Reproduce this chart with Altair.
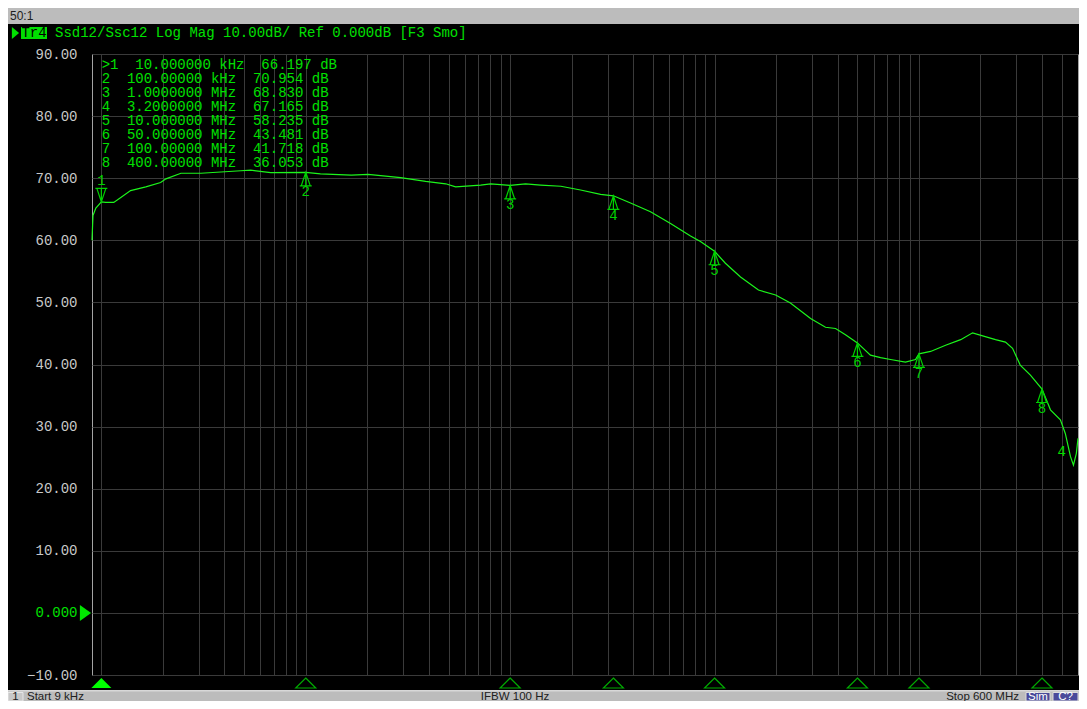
import altair as alt
import pandas as pd

# ---------------- data ----------------
trace_freq = [9.0e3, 9.1e3, 9.4e3, 1.0e4, 1.05e4, 1.15e4, 1.245e4, 1.39e4, 1.65e4, 1.95e4,
              2.07e4, 2.45e4, 3.07e4, 4.81e4, 5.38e4, 6.74e4, 1.0e5, 1.18e5, 1.67e5, 2.02e5,
              2.91e5, 3.86e5, 4.84e5, 5.41e5, 7.17e5, 8.03e5, 1.0e6, 1.19e6, 1.41e6, 1.77e6,
              2.21e6, 2.77e6, 3.2e6, 3.88e6, 4.86e6, 6.09e6, 7.63e6, 8.53e6, 1.0e7, 1.13e7,
              1.34e7, 1.64e7, 1.99e7, 2.35e7, 2.95e7, 3.49e7, 3.91e7, 4.37e7, 5.0e7, 5.79e7,
              6.49e7, 7.26e7, 8.59e7, 9.62e7, 1.0e8, 1.14e8, 1.35e8, 1.60e8, 1.83e8, 2.11e8,
              2.37e8, 2.65e8, 2.87e8, 3.13e8, 3.51e8, 4.0e8, 4.40e8, 4.92e8, 5.20e8, 5.51e8,
              5.70e8, 5.89e8, 6.0e8]
trace_db = [60.0, 64.0, 65.2, 66.2, 66.1, 66.1, 66.9, 68.0, 68.6, 69.3,
            69.9, 70.8, 70.8, 71.2, 71.3, 70.9, 70.95, 70.7, 70.5, 70.6,
            70.1, 69.5, 69.1, 68.6, 68.9, 69.1, 68.83, 69.1, 68.9, 68.7,
            68.1, 67.4, 67.165, 66.0, 64.6, 62.7, 60.7, 59.8, 58.235, 56.3,
            54.1, 52.0, 51.2, 49.9, 47.4, 46.0, 45.8, 44.8, 43.481, 41.5,
            41.1, 40.8, 40.4, 40.8, 41.718, 42.1, 43.1, 44.0, 45.1, 44.5,
            44.0, 43.6, 42.6, 39.9, 38.3, 36.053, 32.7, 31.1, 28.9, 25.2,
            23.8, 25.7, 28.1]

marker_num = [1, 2, 3, 4, 5, 6, 7, 8]
marker_freq = [1e4, 1e5, 1e6, 3.2e6, 1e7, 5e7, 1e8, 4e8]
marker_db = [66.197, 70.954, 68.830, 67.165, 58.235, 43.481, 41.718, 36.053]
marker_freq_text = ["10.000000 kHz", "100.00000 kHz", "1.0000000 MHz", "3.2000000 MHz",
                    "10.000000 MHz", "50.000000 MHz", "100.00000 MHz", "400.00000 MHz"]

y_ticks = [-10, 0, 10, 20, 30, 40, 50, 60, 70, 80, 90]
x_grid = [k * 10 ** e for e in range(4, 9) for k in range(1, 10) if 9e3 < k * 10 ** e < 6e8]

header_text = "Ssd12/Ssc12 Log Mag 10.00dB/ Ref 0.000dB [F3 Smo]"
start_text = "Start 9 kHz"
ifbw_text = "IFBW 100 Hz"
stop_text = "Stop 600 MHz"

# ---------------- styling ----------------
W, H = 986, 621
PAD_L, PAD_T, PAD_R, PAD_B = 84, 46, 1, 26
GREEN = "#00e000"
TRACE = "#1cf51c"
MARK = "#00d200"
GRID = "#3a3a3a"
BAR = "#bcbcbc"
MONO = "Liberation Mono"
NB = "\u00a0"

trace_df = pd.DataFrame({"f": trace_freq, "db": trace_db})
mk_df = pd.DataFrame({"n": marker_num, "f": marker_freq, "db": marker_db,
                      "lbl": [str(n) for n in marker_num],
                      "active": [n == 1 for n in marker_num]})
one = pd.DataFrame({"k": [0]})

xs = alt.Scale(type="log", domain=[9e3, 6e8], nice=False)
ys = alt.Scale(domain=[-10, 90], nice=False, zero=False)

table_lines = [
    (">" if n == 1 else NB) + str(n) + NB * 2 + ft + NB * 2 + f"{v:.3f}" + NB + "dB"
    for n, ft, v in zip(marker_num, marker_freq_text, marker_db)
]

trace = alt.Chart(trace_df).mark_line(color=TRACE, strokeWidth=1.2).encode(
    x=alt.X("f:Q", scale=xs,
            axis=alt.Axis(values=x_grid, labels=False, ticks=False, domain=False,
                          grid=True, gridColor=GRID, gridWidth=1, title=None)),
    y=alt.Y("db:Q", scale=ys,
            axis=alt.Axis(values=y_ticks, ticks=False, tickSize=0, domain=False,
                          grid=True, gridColor=GRID, gridWidth=1, title=None,
                          labelExpr="datum.value == 0 ? '0.000' : format(datum.value, '.2f')",
                          labelColor={"condition": {"test": "datum.value === 0", "value": GREEN},
                                      "value": "#c8c8c8"},
                          labelFont=MONO, labelFontSize=14, labelPadding=15)),
)

up_path = "M0,0 L0.3,0.9 L-0.3,0.9 Z M0,0 L0,0.9 M-0.4,0.9 L0.4,0.9"
down_path = "M0,0 L0.3,-0.9 L-0.3,-0.9 Z M0,0 L0,-0.9 M-0.4,-0.9 L0.4,-0.9"

mk_up = alt.Chart(mk_df).transform_filter("!datum.active").mark_point(
    shape=up_path, size=900, filled=False, color=MARK, strokeWidth=1.2, opacity=1
).encode(x=alt.X("f:Q", scale=xs), y=alt.Y("db:Q", scale=ys))
mk_up_lbl = alt.Chart(mk_df).transform_filter("!datum.active").mark_text(
    font=MONO, fontSize=14, color=MARK, dy=20, baseline="middle"
).encode(x=alt.X("f:Q", scale=xs), y=alt.Y("db:Q", scale=ys), text="lbl:N")

mk_dn = alt.Chart(mk_df).transform_filter("datum.active").mark_point(
    shape=down_path, size=900, filled=False, color=MARK, strokeWidth=1.2, opacity=1
).encode(x=alt.X("f:Q", scale=xs), y=alt.Y("db:Q", scale=ys))
mk_dn_lbl = alt.Chart(mk_df).transform_filter("datum.active").mark_text(
    font=MONO, fontSize=14, color=MARK, dy=-21, baseline="middle"
).encode(x=alt.X("f:Q", scale=xs), y=alt.Y("db:Q", scale=ys), text="lbl:N")

# bottom marker indicators
ind_path = "M0,-0.5 L1,0.5 L-1,0.5 Z"
ind_off = alt.Chart(mk_df).transform_filter("!datum.active").mark_point(
    shape=ind_path, size=400, filled=False, color="#00aa00", strokeWidth=1.2, opacity=1
).encode(x=alt.X("f:Q", scale=xs), y=alt.value(H + 8))
ind_on = alt.Chart(mk_df).transform_filter("datum.active").mark_point(
    shape=ind_path, size=400, filled=True, color="#00ff00", opacity=1
).encode(x=alt.X("f:Q", scale=xs), y=alt.value(H + 8))

# reference level triangle
ref_df = pd.DataFrame({"db": [0]})
ref_left = alt.Chart(ref_df).mark_point(
    shape="M-0.7,-1 L0.7,0 L-0.7,1 Z", size=256, filled=True, color="#00e600", opacity=1
).encode(x=alt.value(-6.5), y=alt.Y("db:Q", scale=ys))

# trace end label "4" (kept just inside the right edge)
end_df = pd.DataFrame({"f": [trace_freq[-1]], "db": [trace_db[-1]], "t": ["4"]})
end_lbl = alt.Chart(end_df).mark_text(
    font=MONO, fontSize=14, color=GREEN, align="right", dx=-12, dy=14, baseline="middle"
).encode(x=alt.X("f:Q", scale=xs), y=alt.Y("db:Q", scale=ys), text="t:N")

# marker table
table = alt.Chart(one).mark_text(
    text=table_lines, font=MONO, fontSize=14, color=GREEN, align="left",
    baseline="top", lineHeight=14
).encode(x=alt.value(9.7), y=alt.value(4))


def rect(x1, x2, y1, y2, color, stroke=None):
    kw = dict(color=color)
    if stroke:
        kw.update(stroke=stroke, strokeWidth=1)
    return alt.Chart(one).mark_rect(**kw).encode(
        x=alt.value(x1), x2=alt.value(x2), y=alt.value(y1), y2=alt.value(y2))


def txt(s, x, y, color, font="Liberation Sans", size=13, align="left"):
    return alt.Chart(one).mark_text(text=s, font=font, fontSize=size, color=color,
                                    align=align, baseline="middle").encode(
        x=alt.value(x), y=alt.value(y))


RIGHT = W + PAD_R
top_bar = rect(-PAD_L, RIGHT, -46, -30, BAR)
top_lbl = txt("50:1", -82, -38, "#202020", size=12)
tr_box = rect(-71, -45, -27, -15, "#00e000")
tr_txt = txt("Tr4", -58, -21, "#000000", font=MONO, size=14, align="center")
tr_arrow = alt.Chart(one).mark_point(
    shape="M-0.6,-1 L0.6,0 L-0.6,1 Z", size=144, filled=True, color="#00e000", opacity=1
).encode(x=alt.value(-76.5), y=alt.value(-21))
hdr = txt(header_text, -37, -21, GREEN, font=MONO, size=14)

# bottom status bar (page is cut at the window bottom)
BY = H + PAD_B  # bottom edge of the chart
bot_bar = rect(-PAD_L, RIGHT, 636, BY, BAR)
bot_line = rect(-PAD_L, RIGHT, 636, 637.5, "#d8d8d8")
ch_box = rect(-84, -69, 638.5, BY, "#c8c8c8", stroke="#e6e6e6")
TY = 642.5
ch_txt = txt("1", -76.5, TY, "#202020", size=11.5, align="center")
st_txt = txt(start_text, -65, TY, "#202020", size=11.5)
if_txt = txt(ifbw_text, 423, TY, "#202020", size=11.5, align="center")
sp_txt = txt(stop_text, 927, TY, "#202020", size=11.5, align="right")
sim_box = rect(934, 958, 638.5, BY, "#4a4a9a", stroke="#dcdcdc")
sim_txt = txt("Sim", 946, TY, "#ffffff", size=11.5, align="center")
c_box = rect(961, 986, 638.5, BY, "#4a4a9a", stroke="#dcdcdc")
c_txt = txt("C?", 973.5, TY, "#ffffff", size=11.5, align="center")

chart = alt.layer(
    trace, top_bar, top_lbl, tr_box, tr_txt, tr_arrow, hdr,
    bot_bar, bot_line, ch_box, ch_txt, st_txt, if_txt, sp_txt,
    sim_box, sim_txt, c_box, c_txt,
    table, mk_up, mk_up_lbl, mk_dn, mk_dn_lbl, ind_off, ind_on,
    ref_left, end_lbl,
).properties(
    width=W, height=H,
    autosize=alt.AutoSizeParams(type="none"),
    padding={"left": PAD_L, "top": PAD_T, "right": PAD_R, "bottom": PAD_B},
    background="#000000",
).configure_view(
    stroke="#a4a4a4", strokeWidth=1
)

chart.save("out.html", embed_options={"renderer": "svg", "actions": False})
